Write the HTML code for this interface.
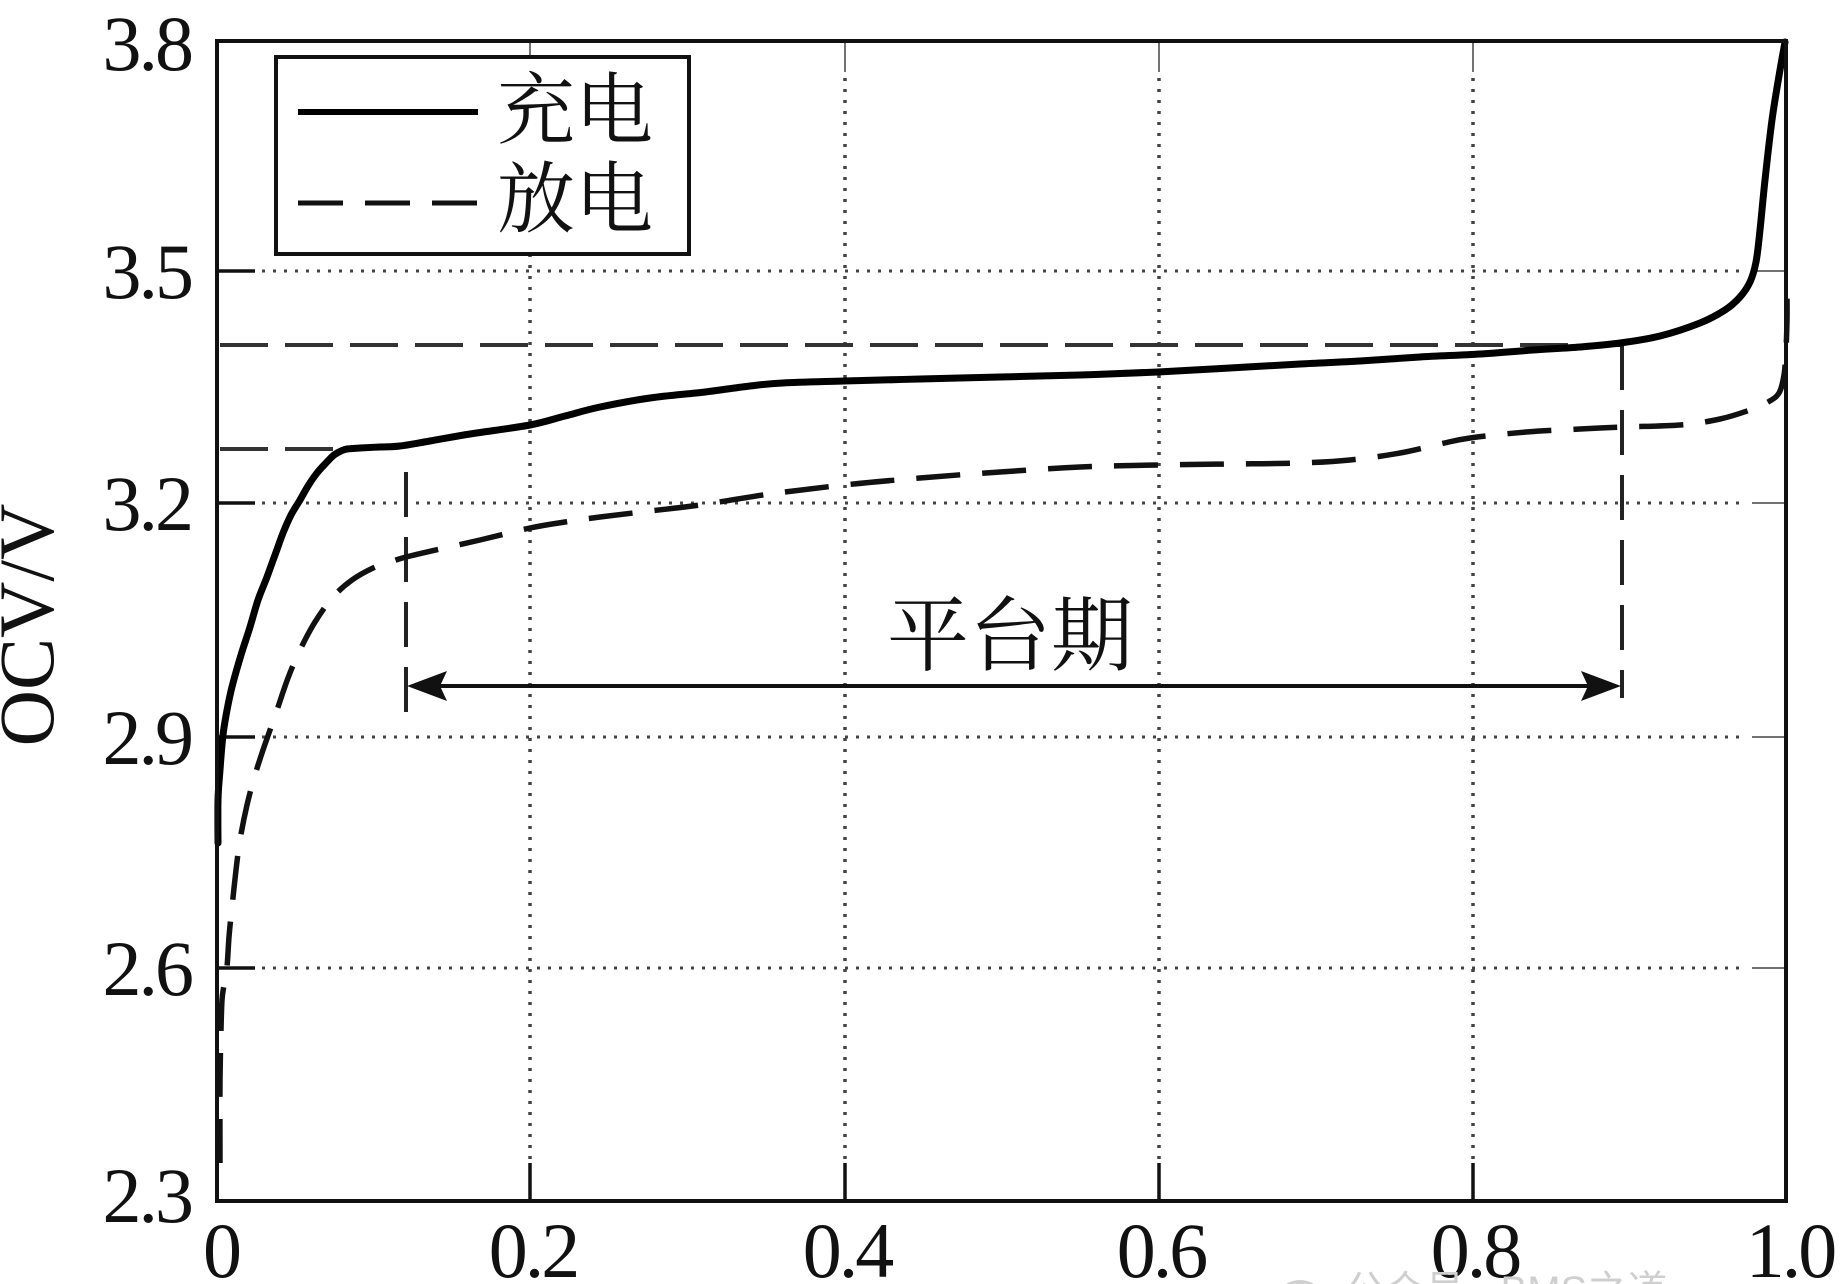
<!DOCTYPE html>
<html>
<head>
<meta charset="utf-8">
<style>
  html, body { margin: 0; padding: 0; background: #ffffff; }
  body { width: 1841px; height: 1284px; overflow: hidden; }
  svg { display: block; }
  .num { font-family: "Liberation Serif", "Noto Serif CJK SC", serif; font-size: 78px; fill: #111; letter-spacing: -3px; }
  .cjk { font-family: "Liberation Serif", "Noto Serif CJK SC", "Noto Sans CJK SC", serif; fill: #111; }
</style>
</head>
<body>
<svg width="1841" height="1284" viewBox="0 0 1841 1284" xmlns="http://www.w3.org/2000/svg">
  <rect x="0" y="0" width="1841" height="1284" fill="#ffffff"/>

  <!-- dotted grid: horizontal -->
  <g stroke="#444" stroke-width="3" stroke-dasharray="3 8" fill="none">
    <line x1="262" y1="271" x2="1745" y2="271"/>
    <line x1="262" y1="503" x2="1745" y2="503"/>
    <line x1="262" y1="737" x2="1745" y2="737"/>
    <line x1="262" y1="968" x2="1745" y2="968"/>
  </g>
  <!-- dotted grid: vertical -->
  <g stroke="#444" stroke-width="3.5" stroke-dasharray="3 8" fill="none">
    <line x1="530" y1="78" x2="530" y2="1160"/>
    <line x1="845" y1="78" x2="845" y2="1160"/>
    <line x1="1159" y1="78" x2="1159" y2="1160"/>
    <line x1="1473" y1="78" x2="1473" y2="1160"/>
  </g>

  <!-- ticks -->
  <g stroke="#111" stroke-width="3.5">
    <line x1="217" y1="271" x2="255" y2="271"/>
    <line x1="217" y1="503" x2="255" y2="503"/>
    <line x1="217" y1="737" x2="255" y2="737"/>
    <line x1="217" y1="968" x2="255" y2="968"/>
    <line x1="530" y1="1201" x2="530" y2="1163"/>
    <line x1="845" y1="1201" x2="845" y2="1163"/>
    <line x1="1159" y1="1201" x2="1159" y2="1163"/>
    <line x1="1473" y1="1201" x2="1473" y2="1163"/>
  </g>
  <g stroke="#444" stroke-width="1.5">
    <line x1="1786" y1="271" x2="1752" y2="271"/>
    <line x1="1786" y1="503" x2="1752" y2="503"/>
    <line x1="1786" y1="737" x2="1752" y2="737"/>
    <line x1="1786" y1="968" x2="1752" y2="968"/>
    <line x1="530" y1="41" x2="530" y2="72"/>
    <line x1="845" y1="41" x2="845" y2="72"/>
    <line x1="1159" y1="41" x2="1159" y2="72"/>
    <line x1="1473" y1="41" x2="1473" y2="72"/>
  </g>

  <!-- reference dashed lines -->
  <g stroke="#333" stroke-width="4" stroke-dasharray="48 17" fill="none">
    <line x1="220" y1="345" x2="1622" y2="345"/>
    <line x1="220" y1="449" x2="347" y2="449"/>
  </g>
  <g stroke="#222" stroke-width="4" stroke-dasharray="45 20" fill="none">
    <line x1="406" y1="472" x2="406" y2="716"/>
    <line x1="1622" y1="345" x2="1622" y2="698"/>
  </g>

  <!-- arrow -->
  <line x1="430" y1="686" x2="1600" y2="686" stroke="#111" stroke-width="4"/>
  <polygon points="407,686 447,671 440,686 447,701" fill="#111"/>
  <polygon points="1621,686 1581,671 1588,686 1581,701" fill="#111"/>
  <text x="1010" y="664" class="cjk" font-size="82" text-anchor="middle">平台期</text>

  <!-- discharge curve (dashed) -->
  <polyline id="dis" fill="none" stroke="#111" stroke-width="5.5" stroke-dasharray="44 22" stroke-linejoin="round"
    points="220,1163 220,1080 221,1030 222,1000 224,985 227,967 229,937 232,907 236,870 240,840 247,805 255,775 263,750 270,730 277,710 288,678 300,650 315,622 333,597 352,580 373,568 390,562 406,557 440,549 480,540 530,528 565,522 600,517 650,511 700,505 770,494 844,485 920,478 1000,472 1080,467 1158,465 1230,464 1300,463 1350,460 1400,453 1440,444 1470,438 1526,432 1580,429 1622,427 1680,425 1720,419 1750,410 1768,402 1779,393 1784,375 1786,350 1787,320 1787,297"/>

  <!-- charge curve (solid) -->
  <polyline id="chg" fill="none" stroke="#000" stroke-width="7" stroke-linejoin="round" stroke-linecap="round"
    points="218,843 218,800 220,770 223,735 228,705 233,683 241,655 250,627 258,600 267,577 275,555 283,533 291,515 300,500 308,486 317,473 326,463 334,455 341,451 347,449 360,448 380,447 400,446 430,441 470,434 530,425 565,416 600,407 650,398 705,392 750,386 783,383 844,381 920,379 1000,377 1080,375 1158,372 1230,368 1300,364 1360,361 1420,357 1480,354 1533,350 1580,347 1620,343 1660,336 1700,323 1725,310 1740,297 1750,282 1756,262 1760,230 1765,180 1772,120 1780,70 1785,42"/>

  <!-- axes frame -->
  <rect x="217" y="41" width="1569" height="1160" fill="none" stroke="#111" stroke-width="4"/>

  <!-- legend -->
  <rect x="276" y="57" width="413" height="197" fill="#ffffff" stroke="#111" stroke-width="4"/>
  <line x1="298" y1="112" x2="478" y2="112" stroke="#000" stroke-width="6"/>
  <line x1="298" y1="203" x2="478" y2="203" stroke="#111" stroke-width="5" stroke-dasharray="45 22"/>
  <text x="497" y="137" class="cjk" font-size="78">充电</text>
  <text x="497" y="226" class="cjk" font-size="78">放电</text>

  <!-- y tick labels -->
  <g class="num" text-anchor="end">
    <text x="191" y="70">3.8</text>
    <text x="191" y="298">3.5</text>
    <text x="191" y="530">3.2</text>
    <text x="191" y="764">2.9</text>
    <text x="191" y="995">2.6</text>
    <text x="191" y="1222">2.3</text>
  </g>
  <!-- x tick labels -->
  <g class="num" text-anchor="middle">
    <text x="221" y="1277">0</text>
    <text x="533" y="1277">0.2</text>
    <text x="847" y="1277">0.4</text>
    <text x="1161" y="1277">0.6</text>
    <text x="1475" y="1277">0.8</text>
    <text x="1790" y="1277">1.0</text>
  </g>

  <!-- y axis title -->
  <text class="num" transform="translate(53,625) rotate(-90)" text-anchor="middle" style="letter-spacing:0">OCV/V</text>

  <!-- faint watermark -->
  <circle cx="1300" cy="1306" r="26" fill="#d0d0d0"/>
  <text x="1345" y="1304" font-family="Liberation Sans, Noto Sans CJK SC, sans-serif" font-size="40" fill="#cfcfcf">公众号 · BMS之道</text>
</svg>
<script>
(function(){
  try {
    ['chg','dis'].forEach(function(id){
      var pl = document.getElementById(id);
      if (!pl) return;
      var pts = pl.getAttribute('points').trim().split(/\s+/).map(function(s){var a=s.split(',');return [parseFloat(a[0]),parseFloat(a[1])];});
      var d = 'M'+pts[0][0]+','+pts[0][1];
      for (var i=0;i<pts.length-1;i++){
        var p0=pts[i>0?i-1:0], p1=pts[i], p2=pts[i+1], p3=pts[i+2<pts.length?i+2:i+1];
        var c1x=p1[0]+(p2[0]-p0[0])/6, c1y=p1[1]+(p2[1]-p0[1])/6;
        var c2x=p2[0]-(p3[0]-p1[0])/6, c2y=p2[1]-(p3[1]-p1[1])/6;
        d+=' C'+c1x.toFixed(1)+','+c1y.toFixed(1)+' '+c2x.toFixed(1)+','+c2y.toFixed(1)+' '+p2[0]+','+p2[1];
      }
      var path = document.createElementNS('http://www.w3.org/2000/svg','path');
      ['fill','stroke','stroke-width','stroke-dasharray','stroke-linejoin','stroke-linecap'].forEach(function(a){
        var v = pl.getAttribute(a); if (v!==null) path.setAttribute(a,v);
      });
      path.setAttribute('d', d);
      pl.parentNode.replaceChild(path, pl);
    });
  } catch(e) {}
})();
</script>
</body>
</html>
